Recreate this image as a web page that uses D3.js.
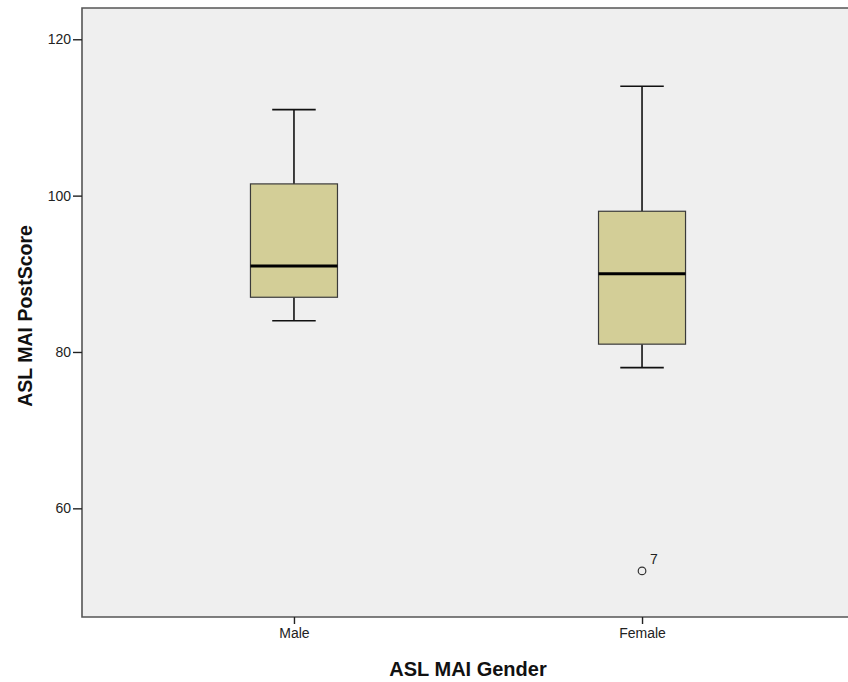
<!DOCTYPE html>
<html>
<head>
<meta charset="utf-8">
<script src="https://cdn.jsdelivr.net/npm/d3@7"></script>
<style>
  html, body { margin: 0; padding: 0; background: #ffffff; }
  svg { display: block; }
  text { font-family: "Liberation Sans", Arial, sans-serif; }
</style>
</head>
<body>
<svg id="chart" width="848" height="682"></svg>
<script>
// ---- data ----
const categories = ["Male", "Female"];
const whiskerLow  = [84, 78];
const q1          = [87, 81];
const median      = [91, 90];
const q3          = [101.5, 98];
const whiskerHigh = [111, 114];
const outlierGroup = ["Female"];
const outlierValue = [52];
const outlierLabel = ["7"];
const yTicks = [60, 80, 100, 120];
const xTitle = "ASL MAI Gender";
const yTitle = "ASL MAI PostScore";

// ---- layout ----
const svg = d3.select("#chart");
const L = 82, T = 8, R = 854, B = 617;

const x = d3.scalePoint().domain(categories).range([L, R]).padding(0.609);
const y = d3.scaleLinear().domain([46.1, 124]).range([B, T]);
const boxW = x.step() * 0.25;
const capW = boxW * 0.5;

// plot background
svg.append("rect").attr("x", L).attr("y", T).attr("width", R - L).attr("height", B - T)
  .attr("fill", "#efefef");

// boxes
const groups = categories.map((c, i) => ({
  c, lo: whiskerLow[i], q1: q1[i], med: median[i], q3: q3[i], hi: whiskerHigh[i]
}));
const g = svg.append("g").selectAll("g").data(groups).join("g");

// whiskers
g.append("line").attr("x1", d => x(d.c)).attr("x2", d => x(d.c))
  .attr("y1", d => y(d.hi)).attr("y2", d => y(d.q3))
  .attr("stroke", "#111").attr("stroke-width", 1.6);
g.append("line").attr("x1", d => x(d.c)).attr("x2", d => x(d.c))
  .attr("y1", d => y(d.q1)).attr("y2", d => y(d.lo))
  .attr("stroke", "#111").attr("stroke-width", 1.6);
g.append("line").attr("x1", d => x(d.c) - capW / 2).attr("x2", d => x(d.c) + capW / 2)
  .attr("y1", d => y(d.hi)).attr("y2", d => y(d.hi))
  .attr("stroke", "#111").attr("stroke-width", 1.6);
g.append("line").attr("x1", d => x(d.c) - capW / 2).attr("x2", d => x(d.c) + capW / 2)
  .attr("y1", d => y(d.lo)).attr("y2", d => y(d.lo))
  .attr("stroke", "#111").attr("stroke-width", 1.6);

// box
g.append("rect").attr("x", d => x(d.c) - boxW / 2).attr("width", boxW)
  .attr("y", d => y(d.q3)).attr("height", d => y(d.q1) - y(d.q3))
  .attr("fill", "#d3ce97").attr("stroke", "#3a3a3a").attr("stroke-width", 1.2);

// median
g.append("line").attr("x1", d => x(d.c) - boxW / 2).attr("x2", d => x(d.c) + boxW / 2)
  .attr("y1", d => y(d.med)).attr("y2", d => y(d.med))
  .attr("stroke", "#000").attr("stroke-width", 3);

// outliers
const outs = outlierGroup.map((c, i) => ({ c, v: outlierValue[i], lab: outlierLabel[i] }));
svg.append("g").selectAll("circle").data(outs).join("circle")
  .attr("cx", d => x(d.c)).attr("cy", d => y(d.v)).attr("r", 3.8)
  .attr("fill", "none").attr("stroke", "#333").attr("stroke-width", 1.2);
svg.append("g").selectAll("text").data(outs).join("text")
  .attr("x", d => x(d.c) + 8).attr("y", d => y(d.v) - 7)
  .attr("font-size", 14).attr("fill", "#222").text(d => d.lab);

// frame: top, left, bottom
svg.append("path")
  .attr("d", `M${R},${T}H${L}V${B}H${R}`)
  .attr("fill", "none").attr("stroke", "#555").attr("stroke-width", 1.6);

// y axis
const yAxis = svg.append("g").attr("transform", `translate(${L},0)`)
  .call(d3.axisLeft(y).tickValues(yTicks).tickSize(9).tickPadding(2).tickFormat(d3.format("d")));
yAxis.select(".domain").remove();
yAxis.selectAll(".tick line").attr("stroke", "#222").attr("stroke-width", 1.4);
yAxis.selectAll(".tick text").attr("font-size", 14).attr("fill", "#222")
  .attr("font-family", "'Liberation Sans', Arial, sans-serif");

// x axis
const xAxis = svg.append("g").attr("transform", `translate(0,${B})`)
  .call(d3.axisBottom(x).tickSize(7).tickPadding(4));
xAxis.select(".domain").remove();
xAxis.selectAll(".tick line").attr("stroke", "#222").attr("stroke-width", 1.4);
xAxis.selectAll(".tick text").attr("font-size", 14).attr("fill", "#222")
  .attr("font-family", "'Liberation Sans', Arial, sans-serif");

// titles
svg.append("text").attr("x", (L + R) / 2).attr("y", 676)
  .attr("text-anchor", "middle").attr("font-size", 20).attr("font-weight", "bold")
  .attr("fill", "#111").text(xTitle);
svg.append("text").attr("transform", `translate(32,${(T + B) / 2 + 3.5}) rotate(-90)`)
  .attr("text-anchor", "middle").attr("font-size", 19.5).attr("font-weight", "bold")
  .attr("fill", "#111").text(yTitle);
</script>
</body>
</html>
